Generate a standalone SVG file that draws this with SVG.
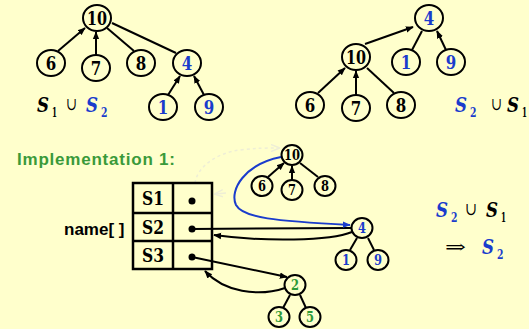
<svg xmlns="http://www.w3.org/2000/svg" width="529" height="329" viewBox="0 0 529 329">
  <style>
    .nd { fill: none; stroke: #000; stroke-width: 2; }
    .big { font-family: 'DejaVu Serif', serif; font-weight: bold; font-size: 18px; text-anchor: middle; }
    .sm { font-family: 'DejaVu Serif', serif; font-weight: bold; font-size: 14px; text-anchor: middle; }
    .k { fill: #000; }
    .b { fill: #1a3ccc; }
    .g { fill: #2f9a38; }
    .ed { stroke: #000; stroke-width: 2; fill: none; }
    .ar { marker-end: url(#ah); }
    .S { font-family: 'DejaVu Serif', serif; font-weight: bold; font-style: italic; font-size: 20px; }
    .sub { font-family: 'DejaVu Serif', serif; font-weight: bold; font-size: 12px; }
    .op { font-family: 'DejaVu Serif', serif; font-size: 18px; }
    .cell { fill: none; stroke: #000; stroke-width: 2.5; }
    .lbl { font-family: 'DejaVu Serif', serif; font-weight: bold; font-size: 18px; text-anchor: middle; }
    .sans { font-family: 'Liberation Sans', Arial, sans-serif; font-weight: bold; font-size: 17px; }
  </style>
  <defs>
    <marker id="ah" viewBox="0 0 10 10" refX="9" refY="5" markerWidth="4" markerHeight="4" orient="auto" markerUnits="strokeWidth">
      <path d="M0,1 L10,5 L0,9 z" fill="#000"/>
    </marker>
    <marker id="ahb" viewBox="0 0 10 10" refX="9" refY="5" markerWidth="4" markerHeight="4" orient="auto" markerUnits="strokeWidth">
      <path d="M0,1 L10,5 L0,9 z" fill="#1a3ccc"/>
    </marker>
    <marker id="ahf" viewBox="0 0 10 10" refX="9" refY="5" markerWidth="6" markerHeight="6" orient="auto" markerUnits="strokeWidth">
      <path d="M0,1 L10,5 L0,9" fill="none" stroke="#eeeed6" stroke-width="1.5"/>
    </marker>
  </defs>

  <rect width="529" height="329" fill="#ffffcc"/>

  <!-- connectors -->
  <g id="connectors">
    <!-- S1 ∪ S2 tree edges -->
    <line class="ed ar" x1="58" y1="51" x2="85" y2="28"/>
    <line class="ed ar" x1="96" y1="55" x2="96" y2="32"/>
    <line class="ed" x1="134" y1="51" x2="107" y2="28"/>
    <line class="ed" x1="176" y1="53" x2="112" y2="23"/>
    <line class="ed ar" x1="168" y1="95" x2="180" y2="76"/>
    <line class="ed ar" x1="204" y1="95" x2="194" y2="76"/>
    <!-- S2 ∪ S1 tree edges -->
    <line class="ed ar" x1="365" y1="44" x2="413" y2="27"/>
    <line class="ed" x1="412" y1="50" x2="422" y2="31"/>
    <line class="ed ar" x1="446" y1="50" x2="437" y2="31"/>
    <line class="ed ar" x1="318" y1="93" x2="345" y2="68"/>
    <line class="ed ar" x1="356" y1="95" x2="356" y2="71"/>
    <line class="ed" x1="394" y1="93" x2="367" y2="68"/>
    <!-- implementation trees -->
    <line class="ed ar" x1="268" y1="177" x2="284" y2="163"/>
    <line class="ed ar" x1="292" y1="180" x2="292" y2="166"/>
    <line class="ed" x1="318" y1="177" x2="300" y2="163"/>
    <line class="ed" x1="350" y1="250" x2="357" y2="238"/>
    <line class="ed" x1="374" y1="250" x2="368" y2="238"/>
    <line class="ed" x1="283" y1="308" x2="290" y2="295"/>
    <line class="ed" x1="306" y1="308" x2="300" y2="295"/>
    <!-- pointers between the table and the roots -->
    <line class="ed" x1="192" y1="229" x2="351" y2="228"/>
    <path class="ed ar" d="M352,232 C330,241 265,242 214,235"/>
    <line class="ed ar" x1="192" y1="257" x2="287" y2="277"/>
    <path class="ed ar" d="M285,288 C258,297 224,292 205,271"/>
    <path d="M281,157 C245,164 229,190 236,205 C243,218 275,221 350,225" fill="none" stroke="#1a3ccc" stroke-width="2" marker-end="url(#ahb)"/>
    <!-- faint leftover pointer of S1 -->
    <path d="M195,183 C197,168 215,153 240,150 C255,148 268,148 279,148" fill="none" stroke="#eeeed6" stroke-width="1.5" stroke-dasharray="3,3" marker-end="url(#ahf)"/>
    <path d="M226,193 L215,194" fill="none" stroke="#eeeed6" stroke-width="1.5" marker-end="url(#ahf)"/>
  </g>

  <!-- S1 ∪ S2 -->
  <g id="l10"><ellipse class="nd" cx="97" cy="18" rx="14" ry="13"/><text class="big k" x="97" y="24.5" textLength="20" lengthAdjust="spacingAndGlyphs">10</text></g>
  <g id="l6"><ellipse class="nd" cx="51" cy="63" rx="14" ry="13"/><text class="big k" x="51" y="69.5" textLength="10.5" lengthAdjust="spacingAndGlyphs">6</text></g>
  <g id="l7"><ellipse class="nd" cx="96" cy="68" rx="14" ry="13"/><text class="big k" x="96" y="74.5" textLength="10.5" lengthAdjust="spacingAndGlyphs">7</text></g>
  <g id="l8"><ellipse class="nd" cx="141" cy="63" rx="14" ry="13"/><text class="big k" x="141" y="69.5" textLength="10.5" lengthAdjust="spacingAndGlyphs">8</text></g>
  <g id="l4"><ellipse class="nd" cx="187" cy="63" rx="14" ry="13"/><text class="big b" x="187" y="69.5" textLength="10.5" lengthAdjust="spacingAndGlyphs">4</text></g>
  <g id="l1"><ellipse class="nd" cx="163" cy="107" rx="14" ry="13"/><text class="big b" x="163" y="113.5" textLength="10.5" lengthAdjust="spacingAndGlyphs">1</text></g>
  <g id="l9"><ellipse class="nd" cx="209" cy="107" rx="14" ry="13"/><text class="big b" x="209" y="113.5" textLength="10.5" lengthAdjust="spacingAndGlyphs">9</text></g>
  <g id="expr-left">
    <text class="S k" x="37" y="112" textLength="12" lengthAdjust="spacingAndGlyphs">S</text>
    <text class="sub k" x="52" y="117" textLength="5" lengthAdjust="spacingAndGlyphs">1</text>
    <text class="op k" x="66" y="110" textLength="11" lengthAdjust="spacingAndGlyphs">∪</text>
    <text class="S b" x="86" y="112" textLength="12" lengthAdjust="spacingAndGlyphs">S</text>
    <text class="sub b" x="101" y="117" textLength="6.5" lengthAdjust="spacingAndGlyphs">2</text>
  </g>

  <!-- S2 ∪ S1 -->
  <g id="r4"><ellipse class="nd" cx="429" cy="18" rx="14" ry="13"/><text class="big b" x="429" y="24.5" textLength="10.5" lengthAdjust="spacingAndGlyphs">4</text></g>
  <g id="r10"><ellipse class="nd" cx="356" cy="57" rx="14" ry="13"/><text class="big k" x="356" y="63.5" textLength="20" lengthAdjust="spacingAndGlyphs">10</text></g>
  <g id="r1"><ellipse class="nd" cx="406" cy="62" rx="14" ry="13"/><text class="big b" x="406" y="68.5" textLength="10.5" lengthAdjust="spacingAndGlyphs">1</text></g>
  <g id="r9"><ellipse class="nd" cx="451" cy="62" rx="14" ry="13"/><text class="big b" x="451" y="68.5" textLength="10.5" lengthAdjust="spacingAndGlyphs">9</text></g>
  <g id="r6"><ellipse class="nd" cx="310" cy="105" rx="14" ry="13"/><text class="big k" x="310" y="111.5" textLength="10.5" lengthAdjust="spacingAndGlyphs">6</text></g>
  <g id="r7"><ellipse class="nd" cx="356" cy="108" rx="14" ry="13"/><text class="big k" x="356" y="114.5" textLength="10.5" lengthAdjust="spacingAndGlyphs">7</text></g>
  <g id="r8"><ellipse class="nd" cx="401" cy="105" rx="14" ry="13"/><text class="big k" x="401" y="111.5" textLength="10.5" lengthAdjust="spacingAndGlyphs">8</text></g>
  <g id="expr-right">
    <text class="S b" x="455" y="112" textLength="12" lengthAdjust="spacingAndGlyphs">S</text>
    <text class="sub b" x="470" y="117" textLength="6.5" lengthAdjust="spacingAndGlyphs">2</text>
    <text class="op k" x="491" y="110" textLength="11" lengthAdjust="spacingAndGlyphs">∪</text>
    <text class="S k" x="507" y="112" textLength="12" lengthAdjust="spacingAndGlyphs">S</text>
    <text class="sub k" x="522" y="117" textLength="5" lengthAdjust="spacingAndGlyphs">1</text>
  </g>

  <!-- Implementation 1 -->
  <text class="sans" x="17" y="165" fill="#3a9a3a" textLength="158" lengthAdjust="spacing">Implementation 1:</text>
  <text class="sans" x="64" y="235" fill="#000">name[ ]</text>

  <g id="table">
    <rect class="cell" x="133" y="183" width="79" height="86"/>
    <line class="cell" x1="173" y1="183" x2="173" y2="269"/>
    <line class="cell" x1="133" y1="213" x2="212" y2="213"/>
    <line class="cell" x1="133" y1="241" x2="212" y2="241"/>
    <text class="lbl k" x="153" y="204.5" textLength="22" lengthAdjust="spacingAndGlyphs">S1</text>
    <text class="lbl k" x="153" y="233.5" textLength="22" lengthAdjust="spacingAndGlyphs">S2</text>
    <text class="lbl k" x="153" y="261.5" textLength="22" lengthAdjust="spacingAndGlyphs">S3</text>
    <circle cx="192" cy="201" r="3.5" fill="#000"/>
    <circle cx="192" cy="229" r="3.5" fill="#000"/>
    <circle cx="192" cy="257" r="3.5" fill="#000"/>
  </g>

  <g id="b10"><ellipse class="nd" cx="292" cy="155" rx="10.5" ry="10"/><text class="sm k" x="292" y="160" textLength="16" lengthAdjust="spacingAndGlyphs">10</text></g>
  <g id="b6"><ellipse class="nd" cx="262" cy="186" rx="10.5" ry="10"/><text class="sm k" x="262" y="191" textLength="8" lengthAdjust="spacingAndGlyphs">6</text></g>
  <g id="b7"><ellipse class="nd" cx="292" cy="190" rx="10.5" ry="10"/><text class="sm k" x="292" y="195" textLength="8" lengthAdjust="spacingAndGlyphs">7</text></g>
  <g id="b8"><ellipse class="nd" cx="325" cy="186" rx="10.5" ry="10"/><text class="sm k" x="325" y="191" textLength="8" lengthAdjust="spacingAndGlyphs">8</text></g>
  <g id="b4"><ellipse class="nd" cx="362" cy="228" rx="10.5" ry="10"/><text class="sm b" x="362" y="233" textLength="8" lengthAdjust="spacingAndGlyphs">4</text></g>
  <g id="b1"><ellipse class="nd" cx="346" cy="260" rx="10.5" ry="10"/><text class="sm b" x="346" y="265" textLength="8" lengthAdjust="spacingAndGlyphs">1</text></g>
  <g id="b9"><ellipse class="nd" cx="378" cy="260" rx="10.5" ry="10"/><text class="sm b" x="378" y="265" textLength="8" lengthAdjust="spacingAndGlyphs">9</text></g>
  <g id="b2"><ellipse class="nd" cx="295" cy="285" rx="10.5" ry="10"/><text class="sm g" x="295" y="290" textLength="8" lengthAdjust="spacingAndGlyphs">2</text></g>
  <g id="b3"><ellipse class="nd" cx="279" cy="317" rx="10.5" ry="10"/><text class="sm g" x="279" y="322" textLength="8" lengthAdjust="spacingAndGlyphs">3</text></g>
  <g id="b5"><ellipse class="nd" cx="310" cy="317" rx="10.5" ry="10"/><text class="sm g" x="310" y="322" textLength="8" lengthAdjust="spacingAndGlyphs">5</text></g>

  <g id="expr-result">
    <text class="S b" x="436" y="217" textLength="12" lengthAdjust="spacingAndGlyphs">S</text>
    <text class="sub b" x="451" y="222" textLength="6.5" lengthAdjust="spacingAndGlyphs">2</text>
    <text class="op k" x="465" y="215" textLength="12" lengthAdjust="spacingAndGlyphs">∪</text>
    <text class="S k" x="486" y="217" textLength="12" lengthAdjust="spacingAndGlyphs">S</text>
    <text class="sub k" x="501" y="222" textLength="5" lengthAdjust="spacingAndGlyphs">1</text>
    <text class="op k" x="445" y="253" textLength="21" lengthAdjust="spacingAndGlyphs">⇒</text>
    <text class="S b" x="482" y="254" textLength="12" lengthAdjust="spacingAndGlyphs">S</text>
    <text class="sub b" x="497" y="259" textLength="6.5" lengthAdjust="spacingAndGlyphs">2</text>
  </g>
</svg>
